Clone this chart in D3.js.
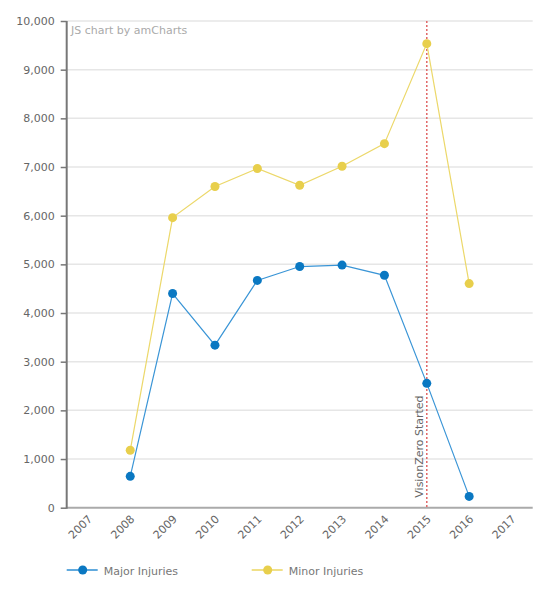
<!DOCTYPE html>
<html>
<head>
<meta charset="utf-8">
<script src="https://cdn.jsdelivr.net/npm/d3@7"></script>
<style>
  body { margin: 0; background: #fff; }
  text { font-family: "DejaVu Sans", Verdana, sans-serif; }
</style>
</head>
<body>
<div id="container"></div>
<script>
var years = ["2007", "2008", "2009", "2010", "2011", "2012", "2013", "2014", "2015", "2016", "2017"];
var majorInjuries = [null, 645, 4400, 3340, 4670, 4955, 4985, 4775, 2555, 232, null];
var minorInjuries = [null, 1180, 5960, 6600, 6970, 6625, 7015, 7480, 9535, 4605, null];
var yTicks = [0, 1000, 2000, 3000, 4000, 5000, 6000, 7000, 8000, 9000, 10000];
var guideYear = "2015";
var guideLabel = "VisionZero Started";

var w = 553, h = 598;
var m = { left: 66.7, right: 532.7, top: 21, bottom: 507.7 };

var svg = d3.select("#container")
  .append("svg")
  .attr("width", w)
  .attr("height", h)
  .attr("viewBox", "0 0 " + w + " " + h);

var x = d3.scaleBand().domain(years).range([m.left, m.right]).padding(0);
var y = d3.scaleLinear().domain([0, 10000]).range([m.bottom, m.top]);
var cx = function(d) { return x(d) + x.bandwidth() / 2; };

// grid
svg.append("g")
  .selectAll("line")
  .data(yTicks.filter(function(t) { return t > 0; }))
  .enter().append("line")
  .attr("x1", m.left).attr("x2", m.right)
  .attr("y1", function(d) { return y(d); })
  .attr("y2", function(d) { return y(d); })
  .attr("stroke", "#e6e6e6")
  .attr("stroke-width", 1.5);

// y axis
var yAxis = svg.append("g")
  .attr("transform", "translate(" + m.left + ",0)")
  .call(d3.axisLeft(y).tickValues(yTicks).tickSize(6).tickPadding(6).tickFormat(d3.format(",")));
yAxis.select(".domain").remove();
yAxis.selectAll(".tick line").attr("stroke", "#777").attr("stroke-width", 1.5);
yAxis.selectAll(".tick text").attr("fill", "#666").style("font-size", "11px")
  .style("font-family", "'DejaVu Sans', Verdana, sans-serif");

// x axis
var xAxis = svg.append("g")
  .attr("transform", "translate(0," + m.bottom + ")")
  .call(d3.axisBottom(x).tickSize(0).tickPadding(0));
xAxis.select(".domain").remove();
xAxis.selectAll(".tick text")
  .attr("fill", "#666")
  .style("font-size", "11px")
  .style("font-family", "'DejaVu Sans', Verdana, sans-serif")
  .attr("text-anchor", "end")
  .attr("dy", null)
  .attr("transform", "translate(5,12) rotate(-45)");

svg.append("line")
  .attr("x1", m.left).attr("x2", m.right)
  .attr("y1", m.bottom).attr("y2", m.bottom)
  .attr("stroke", "#aaa").attr("stroke-width", 2);
svg.append("line")
  .attr("x1", m.left).attr("x2", m.left)
  .attr("y1", m.top).attr("y2", m.bottom + 1)
  .attr("stroke", "#777").attr("stroke-width", 2);

// watermark
svg.append("text")
  .attr("x", 71).attr("y", 34)
  .attr("fill", "#aaa")
  .style("font-size", "11px")
  .text("JS chart by amCharts");

// guide
svg.append("line")
  .attr("x1", cx(guideYear)).attr("x2", cx(guideYear))
  .attr("y1", m.top).attr("y2", m.bottom)
  .attr("stroke", "#e06666")
  .attr("stroke-width", 1.5)
  .attr("stroke-dasharray", "2,2");
svg.append("text")
  .attr("transform", "translate(" + (cx(guideYear) - 4) + "," + (m.bottom - 10) + ") rotate(-90)")
  .attr("fill", "#666")
  .style("font-size", "11px")
  .text(guideLabel);

// series
var series = [
  { name: "Major Injuries", values: majorInjuries, color: "#0a78c2", line: "#3a95d6" },
  { name: "Minor Injuries", values: minorInjuries, color: "#e8cf4c", line: "#ecd86a" }
];

series.slice().reverse().forEach(function(s) {
  var pts = years.map(function(yr, i) { return { year: yr, v: s.values[i] }; })
    .filter(function(p) { return p.v !== null; });
  var line = d3.line()
    .x(function(p) { return cx(p.year); })
    .y(function(p) { return y(p.v); });
  svg.append("path")
    .datum(pts)
    .attr("d", line)
    .attr("fill", "none")
    .attr("stroke", s.line)
    .attr("stroke-width", 1.2);
  svg.append("g")
    .selectAll("circle")
    .data(pts)
    .enter().append("circle")
    .attr("cx", function(p) { return cx(p.year); })
    .attr("cy", function(p) { return y(p.v); })
    .attr("r", 4.5)
    .attr("fill", s.color);
});

// legend
var legendX = [66.7, 251.7];
var legend = svg.append("g")
  .selectAll("g")
  .data(series)
  .enter().append("g")
  .attr("transform", function(d, i) { return "translate(" + legendX[i] + ",570)"; });
legend.append("line")
  .attr("x1", 0).attr("x2", 31)
  .attr("y1", 0).attr("y2", 0)
  .attr("stroke", function(d) { return d.line; })
  .attr("stroke-opacity", 0.8)
  .attr("stroke-width", 2);
legend.append("circle")
  .attr("cx", 16).attr("cy", 0).attr("r", 4.5)
  .attr("fill", function(d) { return d.color; });
legend.append("text")
  .attr("x", 37).attr("y", 4.5)
  .attr("fill", "#777")
  .style("font-size", "11px")
  .text(function(d) { return d.name; });
</script>
</body>
</html>
